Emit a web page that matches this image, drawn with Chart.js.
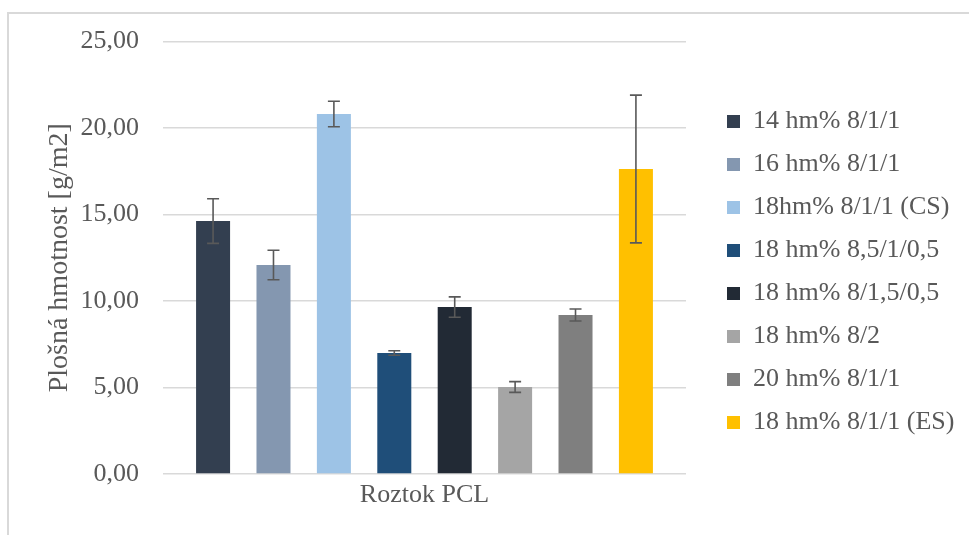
<!DOCTYPE html>
<html>
<head>
<meta charset="utf-8">
<script src="https://cdn.jsdelivr.net/npm/chart.js@4.4.1/dist/chart.umd.min.js"></script>
<style>
  html, body { margin: 0; padding: 0; background: #fff; }
  #wrap { position: relative; width: 969px; height: 535px; overflow: hidden; }
  /* the light frame around the chart (only top and left edges are visible) */
  #frame { position: absolute; left: 7px; top: 12px; width: 1000px; height: 600px;
           border-top: 2px solid #d9d9d9; border-left: 2px solid #d9d9d9; }
  canvas { position: absolute; left: 0; top: 0; }
</style>
</head>
<body>
<div id="wrap"><div id="frame"></div><canvas id="chart" width="969" height="535"></canvas></div>
<script>
// Data
const categories = ['Roztok PCL'];
const seriesNames = [
  '14 hm% 8/1/1',
  '16 hm% 8/1/1',
  '18hm% 8/1/1 (CS)',
  '18 hm% 8,5/1/0,5',
  '18 hm% 8/1,5/0,5',
  '18 hm% 8/2',
  '20 hm% 8/1/1',
  '18 hm% 8/1/1 (ES)'
];
const seriesValues = [14.62, 12.08, 20.81, 6.99, 9.65, 5.03, 9.19, 17.63];
const seriesErrors = [1.29, 0.85, 0.74, 0.13, 0.59, 0.31, 0.35, 4.27];
const seriesColors = ['#333F50', '#8497B0', '#9DC3E6', '#1F4E79', '#222A35', '#A5A5A5', '#7F7F7F', '#FFC000'];
const yMin = 0, yMax = 25, yStep = 5;
const yTitle = 'Plošná hmotnost [g/m2]';

const FONT = "'Liberation Serif', 'Times New Roman', serif";
const TEXT = '#595959';

// legend width depends on the longest label -> compute right padding so the legend sits where it should
const m = document.createElement('canvas').getContext('2d');
m.font = '26px ' + FONT;
const textW = Math.max(...seriesNames.map(s => m.measureText(s).width));
const padRight = 206 - textW;

// simple error bars (Chart.js has none built in)
const errorBars = {
  id: 'errorBars',
  afterDatasetsDraw(chart) {
    const ctx = chart.ctx;
    const y = chart.scales.y;
    ctx.save();
    ctx.strokeStyle = '#595959';
    ctx.lineWidth = 1.6;
    chart.data.datasets.forEach((ds, i) => {
      chart.getDatasetMeta(i).data.forEach((bar, j) => {
        const v = ds.data[j], e = ds.errors[j];
        const top = y.getPixelForValue(v + e);
        const bot = y.getPixelForValue(v - e);
        ctx.beginPath();
        ctx.moveTo(bar.x, top); ctx.lineTo(bar.x, bot);
        ctx.moveTo(bar.x - 6, top); ctx.lineTo(bar.x + 6, top);
        ctx.moveTo(bar.x - 6, bot); ctx.lineTo(bar.x + 6, bot);
        ctx.stroke();
      });
    });
    ctx.restore();
  }
};

const datasets = seriesNames.map((name, i) => ({
  label: name,
  data: [seriesValues[i]],
  errors: [seriesErrors[i]],
  backgroundColor: seriesColors[i],
  borderWidth: 0,
  categoryPercentage: 0.924,
  barPercentage: 0.563
}));

new Chart(document.getElementById('chart'), {
  type: 'bar',
  data: { labels: categories, datasets: datasets },
  plugins: [errorBars],
  options: {
    responsive: false,
    animation: false,
    devicePixelRatio: 1,
    layout: { padding: { top: 41.5, bottom: 16, left: 0, right: padRight } },
    plugins: {
      tooltip: { enabled: false },
      legend: {
        position: 'right',
        fullSize: false,
        maxWidth: 400,
        // empty title only nudges the items down a bit
        title: { display: true, text: ' ', font: { size: 15 }, padding: 5.25 },
        labels: {
          boxWidth: 13,
          boxHeight: 13,
          padding: 17,
          color: TEXT,
          font: { family: FONT, size: 26 }
        }
      }
    },
    scales: {
      x: {
        grid: { display: false },
        border: { display: false },
        ticks: { color: TEXT, font: { family: FONT, size: 26 }, padding: -2 },
        afterFit: s => { s.height = 45; }
      },
      y: {
        min: yMin,
        max: yMax,
        ticks: {
          stepSize: yStep,
          color: TEXT,
          padding: 24,
          font: { family: FONT, size: 26 },
          callback: v => v.toFixed(2).replace('.', ',')
        },
        grid: { color: '#d9d9d9', lineWidth: 1.5, drawTicks: false },
        border: { display: false },
        title: {
          display: true,
          text: yTitle,
          color: TEXT,
          font: { family: FONT, size: 28 },
          padding: { top: 43, bottom: 0 }
        },
        afterFit: s => { s.width = 163; }
      },
      // empty spacer between plot area and legend
      pad: {
        type: 'linear',
        position: 'right',
        grid: { display: false },
        border: { display: false },
        ticks: { display: false },
        afterFit: s => { s.width = 24; }
      }
    }
  }
});
</script>
</body>
</html>
